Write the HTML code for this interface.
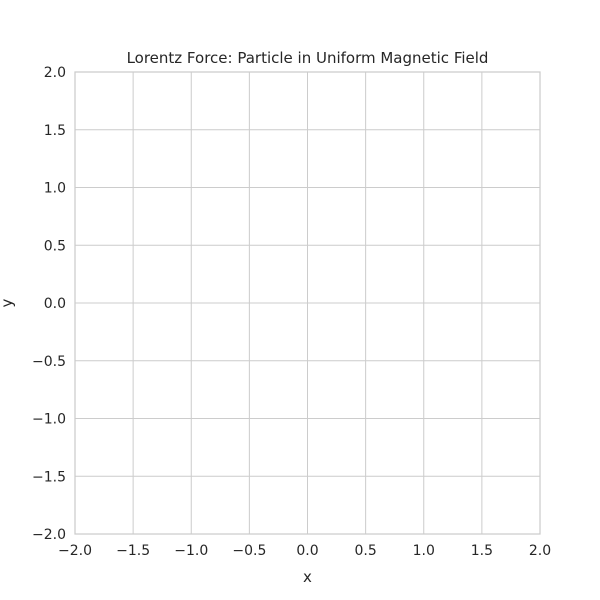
<!DOCTYPE html>
<html>
<head>
<meta charset="utf-8">
<style>
  html,body{margin:0;padding:0;background:#fff;}
  svg{display:block;font-family:"DejaVu Sans","Liberation Sans",sans-serif;}
</style>
</head>
<body>
<svg id="chart" width="600" height="600" viewBox="0 0 600 600">
  <rect x="0" y="0" width="600" height="600" fill="#ffffff"/>
  <g id="grid"></g>
  <rect x="75" y="72" width="465" height="462" fill="none" stroke="#cccccc" stroke-width="1.25"/>
  <g id="ticks"></g>
  <text x="307.5" y="63" text-anchor="middle" font-size="15" fill="#262626">Lorentz Force: Particle in Uniform Magnetic Field</text>
  <text x="307.5" y="582" text-anchor="middle" font-size="15" fill="#262626">x</text>
  <text x="12" y="303" text-anchor="middle" font-size="15" fill="#262626" transform="rotate(-90 12 303)">y</text>
</svg>
<script>
const xTicks = [-2, -1.5, -1, -0.5, 0, 0.5, 1, 1.5, 2];
const yTicks = [-2, -1.5, -1, -0.5, 0, 0.5, 1, 1.5, 2];
const xDomain = [-2, 2];
const yDomain = [-2, 2];

const L = 75, R = 540, T = 72, B = 534;
const sx = v => L + (v - xDomain[0]) / (xDomain[1] - xDomain[0]) * (R - L);
const sy = v => B - (v - yDomain[0]) / (yDomain[1] - yDomain[0]) * (B - T);
const NS = "http://www.w3.org/2000/svg";
const grid = document.getElementById("grid");
const ticks = document.getElementById("ticks");
const fmt = v => (v < 0 ? "\u2212" : "") + Math.abs(v).toFixed(1);

xTicks.forEach(v => {
  const x = sx(v);
  const ln = document.createElementNS(NS, "line");
  ln.setAttribute("x1", x); ln.setAttribute("x2", x);
  ln.setAttribute("y1", T); ln.setAttribute("y2", B);
  ln.setAttribute("stroke", "#cccccc"); ln.setAttribute("stroke-width", "1");
  
  
  grid.appendChild(ln);
  const t = document.createElementNS(NS, "text");
  t.setAttribute("x", x); t.setAttribute("y", B + 21);
  t.setAttribute("text-anchor", "middle"); t.setAttribute("font-size", "14");
  t.setAttribute("fill", "#262626");
  t.textContent = fmt(v);
  
  
  ticks.appendChild(t);
});

yTicks.forEach(v => {
  const y = sy(v);
  const ln = document.createElementNS(NS, "line");
  ln.setAttribute("x1", L); ln.setAttribute("x2", R);
  ln.setAttribute("y1", y); ln.setAttribute("y2", y);
  ln.setAttribute("stroke", "#cccccc"); ln.setAttribute("stroke-width", "1");
  
  
  grid.appendChild(ln);
  const t = document.createElementNS(NS, "text");
  t.setAttribute("x", L - 9); t.setAttribute("y", y + 5);
  t.setAttribute("text-anchor", "end"); t.setAttribute("font-size", "14");
  t.setAttribute("fill", "#262626");
  t.textContent = fmt(v);
  
  
  ticks.appendChild(t);
});
</script>
</body>
</html>
